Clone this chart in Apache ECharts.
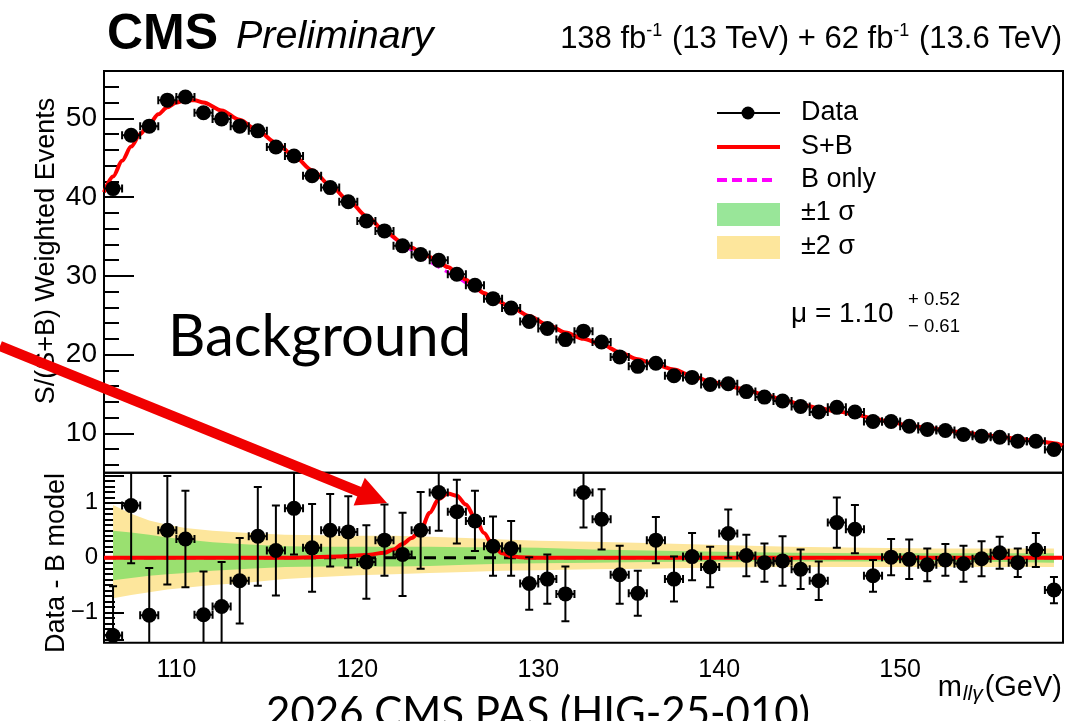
<!DOCTYPE html>
<html>
<head>
<meta charset="utf-8">
<script src="https://cdn.jsdelivr.net/npm/echarts@6/dist/echarts.min.js"></script>
<style>
html, body { margin: 0; padding: 0; background: #fff; }
#chart { width: 1089px; height: 721px; }
</style>
</head>
<body>
<div id="chart"></div>
<script>
// bins are 1 GeV wide, first one starts at 106 GeV
var binStart = 106;
var binWidth = 1;

// upper panel: S/(S+B) weighted events, one value per bin
var dataY = [41.07, 47.84, 49.0, 52.3, 52.7, 50.7, 49.9, 49.0, 48.4, 46.35,
             45.2, 42.7, 41.2, 39.4, 36.95, 35.7, 33.8, 32.7, 31.96, 30.2,
             28.8, 27.1, 25.9, 24.2, 23.3, 21.9, 22.97, 21.6, 19.7, 18.5,
             18.9, 17.3, 17.1, 16.2, 16.3, 15.3, 14.6, 14.1, 13.4, 12.7,
             13.3, 12.7, 11.5, 11.5, 10.9, 10.5, 10.36, 9.85, 9.63, 9.5,
             9.0, 9.0, 7.94];

// lower panel: data - B model and its error
var residY = [-1.42, 0.95, -1.05, 0.50, 0.34, -1.04, -0.89, -0.42, 0.39, 0.13,
              0.90, 0.18, 0.50, 0.47, -0.08, 0.32, 0.06, 0.50, 1.19, 0.84,
              0.67, 0.21, 0.17, -0.47, -0.39, -0.66, 1.19, 0.70, -0.31, -0.65,
              0.32, -0.39, 0.02, -0.17, 0.44, 0.04, -0.09, -0.06, -0.21, -0.42,
              0.64, 0.52, -0.33, 0.01, -0.03, -0.13, -0.04, -0.11, -0.02, 0.09,
              -0.09, 0.14, -0.59];
var residErr = [0.90, 1.05, 0.86, 0.99, 0.88, 0.79, 0.81, 0.78, 0.90, 0.82,
                0.84, 0.80, 0.66, 0.65, 0.67, 0.65, 0.76, 0.70, 0.70, 0.58,
                0.55, 0.54, 0.50, 0.48, 0.45, 0.50, 0.64, 0.55, 0.53, 0.41,
                0.42, 0.41, 0.43, 0.37, 0.44, 0.38, 0.35, 0.45, 0.36, 0.35,
                0.46, 0.44, 0.29, 0.33, 0.36, 0.30, 0.29, 0.33, 0.32, 0.29,
                0.26, 0.31, 0.24];

// S+B fit (upper panel)
var sbX = [106, 106.5, 107, 107.5, 108, 108.5, 109, 109.5, 110, 110.5, 111, 111.5,
           112.5, 113.5, 114.5, 115.5, 116.5, 117.5, 118.5, 119.5, 120.5, 121.5,
           122.5, 123, 123.5, 124, 124.5, 125, 125.5, 126, 126.5, 127, 127.5,
           128.5, 129.5, 130.5, 131.5, 132.5, 133.5, 134.5, 135.5, 136.5, 137.5,
           138.5, 139.5, 140.5, 141.5, 142.5, 143.5, 144.5, 145.5, 146.5, 147.5,
           148.5, 149.5, 150.5, 151.5, 152.5, 153.5, 154.5, 155.5, 156.5, 157.5,
           158.5, 159];
var sbY = [40.6, 42.6, 44.6, 46.4, 48.0, 49.3, 50.5, 51.4, 52.0, 52.3, 52.3, 52.0,
           51.0, 49.8, 48.4, 46.9, 45.2, 43.4, 41.5, 39.6, 37.6, 35.7,
           34.2, 33.6, 33.0, 32.4, 31.8, 31.1, 30.4, 29.5, 28.6, 27.8, 27.1,
           26.0, 24.9, 23.8, 22.8, 22.0, 21.3, 20.3, 19.4, 18.7, 18.1,
           17.3, 16.6, 16.0, 15.5, 14.9, 14.3, 13.7, 13.2, 12.8, 12.4,
           11.9, 11.4, 11.0, 10.7, 10.4, 10.1, 9.85, 9.55, 9.3, 9.05,
           8.75, 8.45];

// B only fit, visible only where it leaves the S+B curve
var bX = [120.5, 121.5, 122.5, 123.5, 124.5, 125.5, 126.5, 127.5, 128.5, 129.5];
var bY = [37.6, 35.7, 34.0, 32.5, 31.1, 29.8, 28.4, 27.1, 26.0, 24.9];

// S+B - B in the lower panel
var sigX = [106, 116, 119, 120.5, 121.5, 122, 122.5, 123, 123.5, 124, 124.5, 125,
            125.5, 126, 126.5, 127, 127.5, 128, 128.5, 129, 130, 159];
var sigY = [0, 0, 0.02, 0.05, 0.09, 0.15, 0.25, 0.36, 0.50, 0.82, 1.07, 1.17,
            1.13, 0.97, 0.73, 0.45, 0.22, 0.08, 0.03, 0.01, 0, 0];

// uncertainty bands of the B model
var bandX   = [106.5, 107.5, 108.5, 109.5, 110.5, 112, 114, 116, 118, 120, 122, 124,
               126, 128, 130, 133, 136, 140, 144, 148, 152, 156, 158.5];
var band2Hi = [0.96, 0.80, 0.68, 0.60, 0.54, 0.49, 0.45, 0.42, 0.41, 0.40, 0.40, 0.38,
               0.36, 0.33, 0.31, 0.29, 0.27, 0.23, 0.20, 0.18, 0.17, 0.17, 0.17];
var band2Lo = [-0.74, -0.68, -0.63, -0.58, -0.55, -0.50, -0.45, -0.39, -0.35, -0.32, -0.30, -0.28,
               -0.26, -0.24, -0.23, -0.21, -0.20, -0.18, -0.17, -0.17, -0.17, -0.17, -0.17];
var band1Hi = [0.49, 0.46, 0.42, 0.37, 0.33, 0.28, 0.24, 0.21, 0.20, 0.20, 0.20, 0.20,
               0.19, 0.19, 0.18, 0.15, 0.13, 0.11, 0.09, 0.08, 0.08, 0.08, 0.08];
var band1Lo = [-0.41, -0.37, -0.33, -0.30, -0.28, -0.24, -0.20, -0.17, -0.16, -0.16, -0.16, -0.15,
               -0.13, -0.11, -0.10, -0.09, -0.08, -0.07, -0.07, -0.07, -0.07, -0.08, -0.09];

// tick positions
var xLabels = [110, 120, 130, 140, 150];
var xMinor = [106, 108, 112, 114, 116, 118, 122, 124, 126, 128, 132, 134, 136, 138,
              142, 144, 146, 148, 152, 154, 156, 158];
var yLabels = [10, 20, 30, 40, 50];
var yMinor = [6, 8, 12, 14, 16, 18, 22, 24, 26, 28, 32, 34, 36, 38, 42, 44, 46, 48, 52, 54, 56];
var rLabels = [-1, 0, 1];
var rMajor = [-1.5, -1, -0.5, 0, 0.5, 1, 1.5];
var rMinor = [-1.4, -1.3, -1.2, -1.1, -0.9, -0.8, -0.7, -0.6, -0.4, -0.3, -0.2, -0.1,
              0.1, 0.2, 0.3, 0.4, 0.6, 0.7, 0.8, 0.9, 1.1, 1.2, 1.3, 1.4];

var FONT = '"Liberation Sans", Arial, Helvetica, sans-serif';
var GREEN = '#9ae070', YELLOW = '#fde69c';

var binX = dataY.map(function (v, i) { return binStart + binWidth * (i + 0.5); });

function pairs(xs, ys) {
	return xs.map(function (x, i) { return [x, ys[i]]; });
}

function bandRender(hi, lo, color) {
	return function (params, api) {
		if (params.dataIndex !== 0) return null;
		var pts = [];
		for (var i = 0; i < bandX.length; i++) pts.push(api.coord([bandX[i], hi[i]]));
		for (var j = bandX.length - 1; j >= 0; j--) pts.push(api.coord([bandX[j], lo[j]]));
		return { type: 'polygon', shape: { points: pts }, style: { fill: color } };
	};
}

function errRender(withY) {
	return function (params, api) {
		var x = api.value(0), y = api.value(1), e = api.value(2);
		var l = api.coord([x - binWidth / 2, y]);
		var r = api.coord([x + binWidth / 2, y]);
		var st = { stroke: '#000', lineWidth: 2 };
		var cap = 4;
		var kids = [
			{ type: 'line', shape: { x1: l[0], y1: l[1], x2: r[0], y2: r[1] }, style: st },
			{ type: 'line', shape: { x1: l[0], y1: l[1] - cap, x2: l[0], y2: l[1] + cap }, style: st },
			{ type: 'line', shape: { x1: r[0], y1: r[1] - cap, x2: r[0], y2: r[1] + cap }, style: st }
		];
		if (withY) {
			var t = api.coord([x, y + e]);
			var b = api.coord([x, y - e]);
			kids.push({ type: 'line', shape: { x1: t[0], y1: t[1], x2: b[0], y2: b[1] }, style: st });
			kids.push({ type: 'line', shape: { x1: t[0] - cap, y1: t[1], x2: t[0] + cap, y2: t[1] }, style: st });
			kids.push({ type: 'line', shape: { x1: b[0] - cap, y1: b[1], x2: b[0] + cap, y2: b[1] }, style: st });
		}
		return { type: 'group', children: kids };
	};
}

var chart = echarts.init(document.getElementById('chart'));

var tickStyle = { color: '#000', width: 2 };

var option = {
	animation: false,
	grid: [
		{ left: 104, right: 26, top: 71, height: 401.7, show: true, borderColor: '#000', borderWidth: 2, backgroundColor: 'transparent' },
		{ left: 104, right: 26, top: 472.7, bottom: 78.3, show: true, borderColor: '#000', borderWidth: 2, backgroundColor: 'transparent' }
	],
	xAxis: [
		{ type: 'value', gridIndex: 0, position: 'bottom', min: 106, max: 159, axisLine: { show: false }, axisTick: { show: false },
		  axisLabel: { show: false }, splitLine: { show: false } },
		{ type: 'value', gridIndex: 1, position: 'bottom', min: 106, max: 159, axisLine: { show: false },
		  axisTick: { show: true, inside: true, length: 9, lineStyle: tickStyle, customValues: xLabels },
		  axisLabel: { show: true, customValues: xLabels, margin: 15, color: '#000', fontSize: 25, fontFamily: FONT },
		  splitLine: { show: false } },
		{ type: 'value', gridIndex: 1, position: 'bottom', min: 106, max: 159, axisLine: { show: false },
		  axisTick: { show: true, inside: true, length: 5, lineStyle: tickStyle, customValues: xMinor },
		  axisLabel: { show: false }, splitLine: { show: false } }
	],
	yAxis: [
		{ type: 'value', gridIndex: 0, position: 'left', min: 5, max: 56, axisLine: { show: false },
		  axisTick: { show: true, inside: true, length: 30, lineStyle: tickStyle, customValues: yLabels },
		  axisLabel: { show: true, customValues: yLabels, margin: 7, color: '#000', fontSize: 28, fontFamily: FONT },
		  splitLine: { show: false } },
		{ type: 'value', gridIndex: 0, position: 'left', min: 5, max: 56, axisLine: { show: false },
		  axisTick: { show: true, inside: true, length: 15, lineStyle: tickStyle, customValues: yMinor },
		  axisLabel: { show: false }, splitLine: { show: false } },
		{ type: 'value', gridIndex: 1, position: 'left', min: -1.55, max: 1.55, axisLine: { show: false },
		  axisTick: { show: true, inside: true, length: 20, lineStyle: tickStyle, customValues: rMajor },
		  axisLabel: { show: true, customValues: rLabels, margin: 6, color: '#000', fontSize: 24, fontFamily: FONT,
		               formatter: function (v) { return v < 0 ? '\u2212' + (-v) : String(v); } },
		  splitLine: { show: false } },
		{ type: 'value', gridIndex: 1, position: 'left', min: -1.55, max: 1.55, axisLine: { show: false },
		  axisTick: { show: true, inside: true, length: 11, lineStyle: tickStyle, customValues: rMinor },
		  axisLabel: { show: false }, splitLine: { show: false } }
	],
	series: [
		{ type: 'custom', xAxisIndex: 1, yAxisIndex: 2, renderItem: bandRender(band2Hi, band2Lo, YELLOW),
		  data: pairs(bandX, band2Hi), z: 1, silent: true },
		{ type: 'custom', xAxisIndex: 1, yAxisIndex: 2, renderItem: bandRender(band1Hi, band1Lo, GREEN),
		  data: pairs(bandX, band1Hi), z: 2, silent: true },
		{ type: 'line', xAxisIndex: 1, yAxisIndex: 2, data: [[106, 0], [159, 0]], showSymbol: false, z: 3,
		  lineStyle: { color: '#000', width: 3, type: [12, 8] } },
		{ type: 'line', xAxisIndex: 1, yAxisIndex: 2, data: pairs(sigX, sigY), showSymbol: false, z: 4,
		  smooth: 0.3, smoothMonotone: 'x', lineStyle: { color: '#ff0000', width: 4 } },
		{ type: 'custom', xAxisIndex: 1, yAxisIndex: 2, renderItem: errRender(true), clip: true, z: 5,
		  encode: { x: 0, y: 1 },
		  data: binX.map(function (x, i) { return [x, residY[i], residErr[i]]; }) },
		{ type: 'scatter', xAxisIndex: 1, yAxisIndex: 2, data: pairs(binX, residY), symbolSize: 15, z: 6,
		  itemStyle: { color: '#000', opacity: 1 } },

		{ type: 'line', xAxisIndex: 0, yAxisIndex: 0, data: pairs(bX, bY), showSymbol: false, z: 3,
		  smooth: 0.3, lineStyle: { color: '#ff00ff', width: 3, type: [10, 6] } },
		{ type: 'line', xAxisIndex: 0, yAxisIndex: 0, data: pairs(sbX, sbY), showSymbol: false, z: 4,
		  smooth: 0.3, smoothMonotone: 'x', lineStyle: { color: '#ff0000', width: 4 } },
		{ type: 'custom', xAxisIndex: 0, yAxisIndex: 0, renderItem: errRender(false), clip: true, z: 5,
		  encode: { x: 0, y: 1 },
		  data: binX.map(function (x, i) { return [x, dataY[i], 0]; }) },
		{ type: 'scatter', xAxisIndex: 0, yAxisIndex: 0, data: pairs(binX, dataY), symbolSize: 15, z: 6,
		  itemStyle: { color: '#000', opacity: 1 } }
	],
	graphic: [
		// header
		{ type: 'text', x: 107, y: 35, z: 100, style: { text: 'CMS', font: 'bold 50px ' + FONT, fill: '#000', textVerticalAlign: 'middle' } },
		{ type: 'text', x: 236, y: 37, z: 100, style: { text: 'Preliminary', font: 'italic 39.5px ' + FONT, fill: '#000', textVerticalAlign: 'middle' } },
		{ type: 'text', x: 1062, y: 39, z: 100, style: {
			text: '138 fb{sup|-1} (13 TeV) + 62 fb{sup|-1} (13.6 TeV)', font: '31px ' + FONT, fill: '#000',
			textAlign: 'right', textVerticalAlign: 'middle',
			rich: { sup: { fontSize: 18, fontFamily: FONT, verticalAlign: 'top', padding: [0, 1, 16, 0] } } } },

		// legend
		{ type: 'line', z: 100, shape: { x1: 717, y1: 113, x2: 780, y2: 113 }, style: { stroke: '#000', lineWidth: 2 } },
		{ type: 'circle', z: 100, shape: { cx: 748, cy: 113, r: 6.5 }, style: { fill: '#000' } },
		{ type: 'line', z: 100, shape: { x1: 717, y1: 147, x2: 780, y2: 147 }, style: { stroke: '#ff0000', lineWidth: 4 } },
		{ type: 'line', z: 100, shape: { x1: 717, y1: 180, x2: 775, y2: 180 }, style: { stroke: '#ff00ff', lineWidth: 4, lineDash: [10, 5] } },
		{ type: 'rect', z: 100, shape: { x: 717, y: 203, width: 63, height: 23 }, style: { fill: '#99e699' } },
		{ type: 'rect', z: 100, shape: { x: 717, y: 236, width: 63, height: 23 }, style: { fill: YELLOW } },
		{ type: 'text', x: 801, y: 113, z: 100, style: { text: 'Data', font: '27px ' + FONT, fill: '#000', textVerticalAlign: 'middle' } },
		{ type: 'text', x: 801, y: 147, z: 100, style: { text: 'S+B', font: '27px ' + FONT, fill: '#000', textVerticalAlign: 'middle' } },
		{ type: 'text', x: 801, y: 180, z: 100, style: { text: 'B only', font: '27px ' + FONT, fill: '#000', textVerticalAlign: 'middle' } },
		{ type: 'text', x: 801, y: 213, z: 100, style: { text: '\u00b11 \u03c3', font: '27px ' + FONT, fill: '#000', textVerticalAlign: 'middle' } },
		{ type: 'text', x: 801, y: 247, z: 100, style: { text: '\u00b12 \u03c3', font: '27px ' + FONT, fill: '#000', textVerticalAlign: 'middle' } },

		// signal strength
		{ type: 'text', x: 791, y: 314, z: 100, style: { text: '\u03bc = 1.10', font: '28px ' + FONT, fill: '#000', textVerticalAlign: 'middle' } },
		{ type: 'text', x: 908, y: 300, z: 100, style: { text: '+ 0.52', font: '18.5px ' + FONT, fill: '#000', textVerticalAlign: 'middle' } },
		{ type: 'text', x: 908, y: 327, z: 100, style: { text: '\u2212 0.61', font: '18.5px ' + FONT, fill: '#000', textVerticalAlign: 'middle' } },

		// axis titles
		{ type: 'text', x: 47, y: 251, rotation: Math.PI / 2, z: 100, style: { text: 'S/(S+B) Weighted Events', font: '27px ' + FONT, fill: '#000', textAlign: 'center', textVerticalAlign: 'middle' } },
		{ type: 'text', x: 57, y: 563, rotation: Math.PI / 2, z: 100, style: { text: 'Data - B model', font: '27px ' + FONT, fill: '#000', textAlign: 'center', textVerticalAlign: 'middle' } },
		{ type: 'text', x: 1062, y: 688, z: 100, style: {
			text: 'm{sub|ll\u03b3}(GeV)', font: '29px ' + FONT, fill: '#000', textAlign: 'right', textVerticalAlign: 'middle',
			rich: { sub: { fontSize: 21, fontStyle: 'italic', fontFamily: FONT, verticalAlign: 'bottom', padding: [12, 2, 0, 1] } } } },

		// annotations
		{ type: 'text', x: 168, y: 337, z: 100, style: { text: 'Background', font: '58px Lato, "Open Sans", sans-serif', fill: '#000', textVerticalAlign: 'middle' } },
		{ type: 'text', x: 538, y: 713, z: 100, style: { text: '2026 CMS PAS (HIG-25-010)', font: '42px Lato, "Open Sans", sans-serif', fill: '#000', textAlign: 'center', textVerticalAlign: 'middle' } },
		{ type: 'line', z: 110, shape: { x1: 0, y1: 346, x2: 360, y2: 492 }, style: { stroke: '#f00000', lineWidth: 10 } },
		{ type: 'polygon', z: 110, shape: { points: [[387, 503], [353.6, 505.6], [364.8, 477.8]] }, style: { fill: '#f00000' } }
	]
};

chart.setOption(option);
</script>
</body>
</html>
